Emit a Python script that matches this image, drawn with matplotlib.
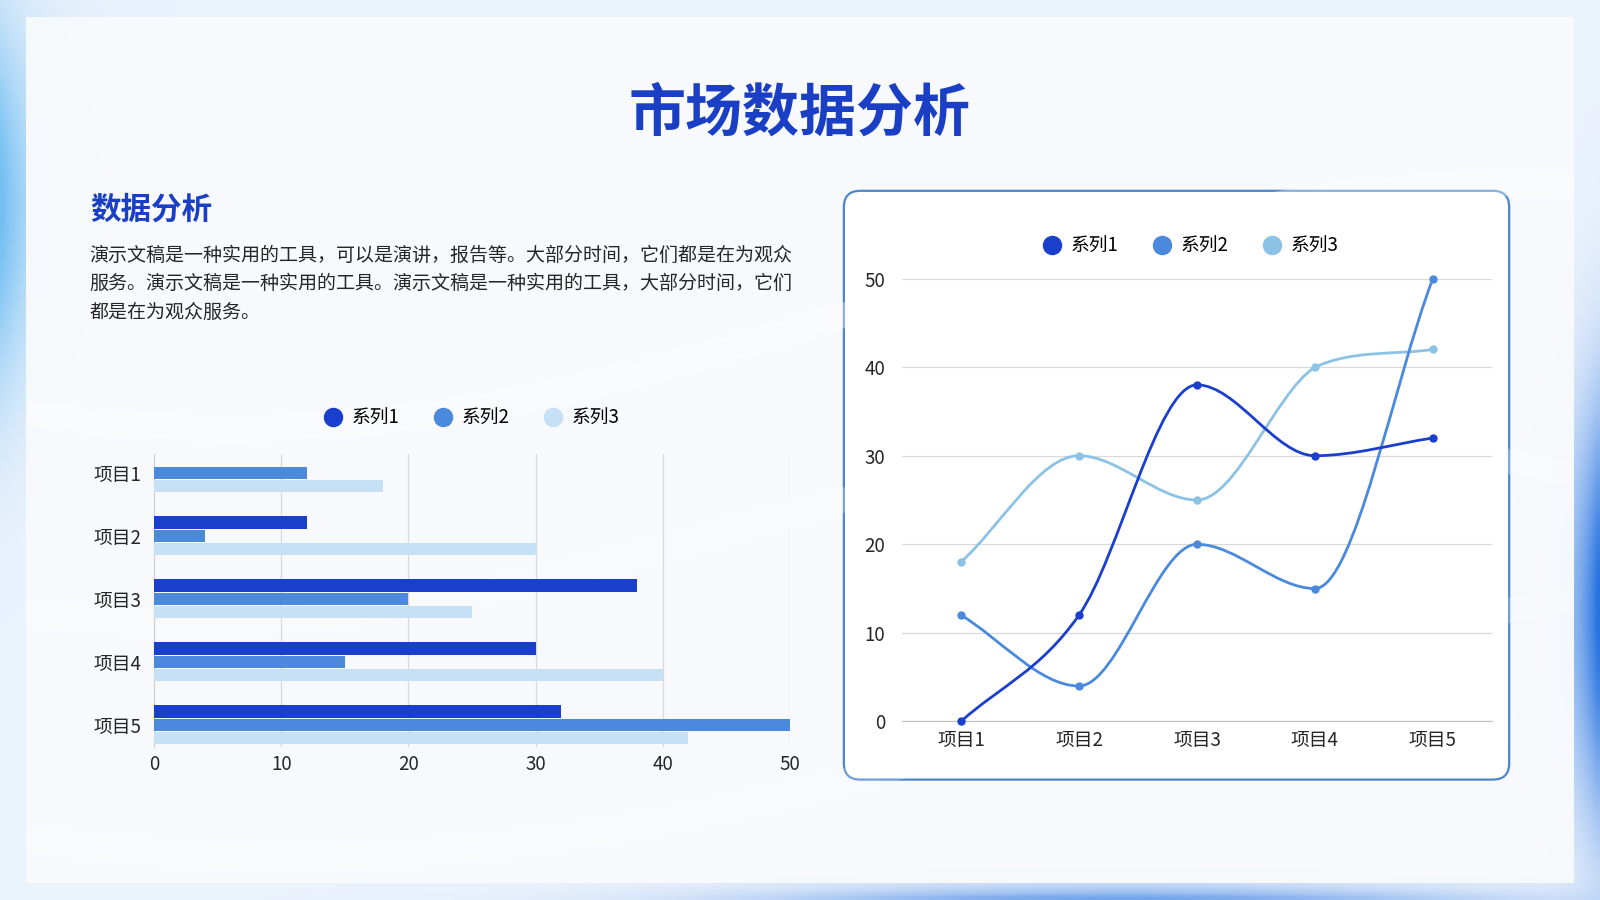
import numpy as np
import matplotlib
matplotlib.use("Agg")
import matplotlib.pyplot as plt
from matplotlib.patches import FancyBboxPatch, Rectangle, PathPatch
from matplotlib.path import Path
from matplotlib.lines import Line2D

plt.rcParams['font.family'] = ['Noto Sans CJK SC', 'DejaVu Sans']

# data
items = ['项目1', '项目2', '项目3', '项目4', '项目5']
series_names = ['系列1', '系列2', '系列3']
s1 = [0, 12, 38, 30, 32]
s2 = [12, 4, 20, 15, 50]
s3 = [18, 30, 25, 40, 42]
bar_ticks = [0, 10, 20, 30, 40, 50]
line_ticks = [0, 10, 20, 30, 40, 50]

title = '市场数据分析'
subtitle = '数据分析'
para = ['演示文稿是一种实用的工具，可以是演讲，报告等。大部分时间，它们都是在为观众',
        '服务。演示文稿是一种实用的工具。演示文稿是一种实用的工具，大部分时间，它们',
        '都是在为观众服务。']

c1, c2 = '#1a3fcc', '#4a89dc'
c3_bar, c3_line = '#c6e1f5', '#8cc2e6'

W, H = 1568, 882  # reference pixel frame


def fx(x):
    return x / W


def fy(y):
    return 1 - y / H


fig = plt.figure(figsize=(16, 9), dpi=100)

# ---- background ----
bg = fig.add_axes([0, 0, 1, 1], zorder=-10)
bg.set_xlim(0, W)
bg.set_ylim(H, 0)
bg.axis('off')

gx, gy = np.meshgrid(np.linspace(0, W, 320), np.linspace(0, H, 180))
img = np.ones((180, 320, 3)) * np.array([0.92, 0.95, 0.99])
left = np.exp(-gx / 40.0) * np.exp(-((gy - 200) / 180.0) ** 2)
right = np.exp(-(W - gx) / 30.0) * np.exp(-((gy - 600) / 200.0) ** 2)
bottom = np.exp(-(H - gy) / 12.0) * np.exp(-((gx - 1100) / 350.0) ** 2)
for k, (cl, cr) in enumerate(zip([0.45, 0.75, 0.95], [0.15, 0.45, 0.88])):
    img[:, :, k] = img[:, :, k] * (1 - left) + cl * left
    img[:, :, k] = img[:, :, k] * (1 - right) + cr * right
    img[:, :, k] = img[:, :, k] * (1 - 0.6 * bottom) + cr * 0.6 * bottom
bg.imshow(img, extent=(0, W, H, 0), aspect='auto', interpolation='bilinear')

panel = Rectangle((25, 17), 1518, 848, facecolor='#f8fafd',
                  edgecolor='none', alpha=0.96)
bg.add_patch(panel)
# faint waves inside the slide panel
t = np.linspace(0, W, 400)
for a, b, off, al in [(120, 0.0025, 300, 0.35), (90, 0.003, 520, 0.25), (140, 0.002, 700, 0.2)]:
    wave, = bg.plot(t, off + a * np.sin(b * t + 1.0), color='white', lw=18, alpha=al)
    wave.set_clip_path(panel)

# line chart panel
bg.add_patch(FancyBboxPatch((827, 187), 652, 577,
                            boxstyle='round,pad=0,rounding_size=16',
                            facecolor='white', edgecolor='#4a86d0', lw=1.6))

# ---- texts ----
fig.text(fx(784), fy(111), title, ha='center', va='center', fontsize=41,
         fontweight='bold', color='#1a3fc4')
fig.text(fx(88), fy(205), subtitle, ha='left', va='center', fontsize=22,
         fontweight='bold', color='#1a3fc4')
for i, line in enumerate(para):
    fig.text(fx(88), fy(250 + 28 * i), line, ha='left', va='center',
             fontsize=13.7, color='#262626')

# ---- bar chart ----
ax1 = fig.add_axes([fx(151), fy(732), fx(774) - fx(151), (732 - 445) / H])
ax1.patch.set_alpha(0)
y = np.arange(len(items))
h = 0.2
ax1.barh(y - 0.21, s1, height=h, color=c1, zorder=3)
ax1.barh(y, s2, height=h, color=c2, zorder=3)
ax1.barh(y + 0.21, s3, height=h, color=c3_bar, zorder=3)
ax1.set_xlim(0, 50)
ax1.set_ylim(4.35, -0.3)
ax1.set_xticks(bar_ticks)
ax1.set_yticks(y)
ax1.set_yticklabels(items)
ax1.grid(axis='x', color='#d9d9d9', lw=0.9, zorder=0)
for s in ['top', 'right', 'bottom']:
    ax1.spines[s].set_visible(False)
ax1.spines['left'].set_color('#d0d0d0')
ax1.tick_params(length=0, labelsize=13.5, colors='#262626')
ax1.tick_params(axis='x', pad=5)
ax1.tick_params(axis='y', pad=9)

handles_bar = [Line2D([], [], ls='none', marker='o', ms=13, color=c)
               for c in [c1, c2, c3_bar]]
fig.legend(handles_bar, series_names, loc='center', ncol=3, frameon=False,
           bbox_to_anchor=(fx(462), fy(410)), fontsize=13.5,
           handlelength=1.0, handletextpad=0.5, columnspacing=1.8)

# ---- line chart ----
ax2 = fig.add_axes([fx(884), fy(707), fx(1462) - fx(884), (707 - 273) / H])
ax2.patch.set_alpha(0)
ax2.set_xlim(-0.5, 4.5)
ax2.set_ylim(0, 50)


def smooth_path(xs, ys):
    # bezier through the points, flat at local extrema, control points kept in segment range
    xs = np.asarray(xs, float)
    ys = np.asarray(ys, float)
    n = len(xs)
    m = np.zeros(n)
    for i in range(n):
        lo, hi = max(i - 1, 0), min(i + 1, n - 1)
        m[i] = (ys[hi] - ys[lo]) / (xs[hi] - xs[lo])
        if 0 < i < n - 1 and (ys[i] - ys[i - 1]) * (ys[i + 1] - ys[i]) <= 0:
            m[i] = 0.0
    verts = [(xs[0], ys[0])]
    codes = [Path.MOVETO]
    for i in range(n - 1):
        dx = (xs[i + 1] - xs[i]) / 3.0
        lo, hi = min(ys[i], ys[i + 1]), max(ys[i], ys[i + 1])
        y1 = np.clip(ys[i] + m[i] * dx, lo, hi)
        y2 = np.clip(ys[i + 1] - m[i + 1] * dx, lo, hi)
        verts += [(xs[i] + dx, y1), (xs[i + 1] - dx, y2), (xs[i + 1], ys[i + 1])]
        codes += [Path.CURVE4] * 3
    return Path(verts, codes)


for vals, col in [(s3, c3_line), (s2, c2), (s1, c1)]:
    ax2.add_patch(PathPatch(smooth_path(y, vals), facecolor='none',
                            edgecolor=col, lw=2.0, zorder=3, capstyle='round'))
    ax2.plot(y, vals, ls='none', marker='o', ms=5, color=col, zorder=4,
             clip_on=False)

ax2.set_xticks(y)
ax2.set_xticklabels(items)
ax2.set_yticks(line_ticks)
ax2.grid(axis='y', color='#d9d9d9', lw=0.9, zorder=0)
for s in ['top', 'right', 'left']:
    ax2.spines[s].set_visible(False)
ax2.spines['bottom'].set_color('#bfbfbf')
ax2.tick_params(length=0, labelsize=13.5, colors='#262626')
ax2.tick_params(axis='x', pad=6)
ax2.tick_params(axis='y', pad=12)

handles_line = [Line2D([], [], ls='none', marker='o', ms=13, color=c)
                for c in [c1, c2, c3_line]]
fig.legend(handles_line, series_names, loc='center', ncol=3, frameon=False,
           bbox_to_anchor=(fx(1167), fy(241)), fontsize=13.5,
           handlelength=1.0, handletextpad=0.5, columnspacing=1.8)

fig.savefig('out.png', dpi=100)
